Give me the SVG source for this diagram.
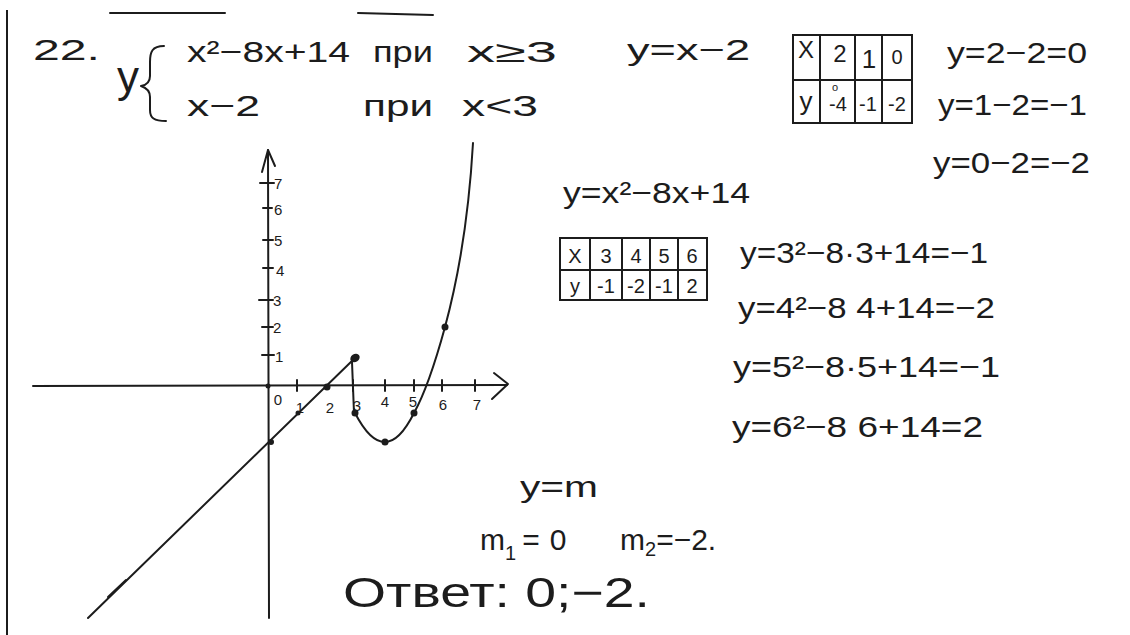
<svg xmlns="http://www.w3.org/2000/svg" width="1130" height="635" viewBox="0 0 1130 635">
<style>
.ink{stroke:#1c1c1c;fill:none;stroke-width:2;stroke-linecap:round;stroke-linejoin:round}
.grid{stroke:#1c1c1c;fill:none;stroke-width:2}
.dot{fill:#1c1c1c}
.t{font-family:"Liberation Sans","DejaVu Sans",sans-serif;fill:#1c1c1c}
.h{font-size:30px}
.s{font-size:20px}
.xs{font-size:15px}
</style>
<rect width="1130" height="635" fill="#ffffff"/>

<g id="page">
  <line class="grid" x1="7" y1="10" x2="7" y2="635" stroke="#444"/>
  <line class="ink" x1="110" y1="13" x2="225" y2="13"/>
  <line class="ink" x1="358" y1="13" x2="433" y2="15"/>
</g>

<g id="system">
  <text class="t h" x="33" y="60" textLength="67" lengthAdjust="spacingAndGlyphs">22.</text>
  <text class="t" x="117" y="92" font-size="44">y</text>
  <path class="ink" d="M164,46 C152,46 150,52 150,62 L150,76 C150,82 147,85 141,86 C147,88 150,91 150,97 L150,110 C150,118 154,121 166,121"/>
  <text class="t h" x="187" y="62" textLength="163" lengthAdjust="spacingAndGlyphs">x²−8x+14</text>
  <text class="t h" x="373" y="62" textLength="60" lengthAdjust="spacingAndGlyphs">при</text>
  <text class="t h" x="467" y="62" textLength="90" lengthAdjust="spacingAndGlyphs">x≥3</text>
  <text class="t h" x="187" y="116" textLength="73" lengthAdjust="spacingAndGlyphs">x−2</text>
  <text class="t h" x="363" y="116" textLength="70" lengthAdjust="spacingAndGlyphs">при</text>
  <text class="t h" x="462" y="116" textLength="76" lengthAdjust="spacingAndGlyphs">x&lt;3</text>
  <text class="t h" x="627" y="60" textLength="123" lengthAdjust="spacingAndGlyphs">y=x−2</text>
</g>

<g id="table1">
  <rect class="grid" x="793" y="35" width="119" height="88"/>
  <line class="grid" x1="793" y1="80" x2="912" y2="80"/>
  <line class="grid" x1="820" y1="35" x2="820" y2="123"/>
  <line class="grid" x1="855" y1="35" x2="855" y2="123"/>
  <line class="grid" x1="882" y1="35" x2="882" y2="123"/>
  <text class="t" font-size="24" x="806" y="58" text-anchor="middle">X</text>
  <text class="t" font-size="24" x="840" y="62" text-anchor="middle">2</text>
  <text class="t" font-size="26" x="869" y="68" text-anchor="middle">1</text>
  <text class="t s" x="897" y="64" text-anchor="middle">0</text>
  <text class="t" font-size="26" x="806" y="110" text-anchor="middle">y</text>
  <text class="t" font-size="11" x="835" y="91" text-anchor="middle">o</text>
  <text class="t s" x="838" y="111" text-anchor="middle">-4</text>
  <text class="t s" x="868" y="111" text-anchor="middle">-1</text>
  <text class="t s" x="897" y="111" text-anchor="middle">-2</text>
</g>

<g id="calc1">
  <text class="t h" x="947" y="63" textLength="140" lengthAdjust="spacingAndGlyphs">y=2−2=0</text>
  <text class="t h" x="938" y="115" textLength="149" lengthAdjust="spacingAndGlyphs">y=1−2=−1</text>
  <text class="t h" x="933" y="173" textLength="157" lengthAdjust="spacingAndGlyphs">y=0−2=−2</text>
</g>

<g id="calc2">
  <text class="t h" x="563" y="203" textLength="187" lengthAdjust="spacingAndGlyphs">y=x²−8x+14</text>
  <rect class="grid" x="560" y="238" width="147" height="62"/>
  <line class="grid" x1="560" y1="270" x2="707" y2="270"/>
  <line class="grid" x1="590" y1="238" x2="590" y2="300"/>
  <line class="grid" x1="622" y1="238" x2="622" y2="300"/>
  <line class="grid" x1="650" y1="238" x2="650" y2="300"/>
  <line class="grid" x1="678" y1="238" x2="678" y2="300"/>
  <text class="t s" x="575" y="263" text-anchor="middle">X</text>
  <text class="t s" x="606" y="263" text-anchor="middle">3</text>
  <text class="t s" x="636" y="263" text-anchor="middle">4</text>
  <text class="t s" x="664" y="263" text-anchor="middle">5</text>
  <text class="t s" x="692" y="263" text-anchor="middle">6</text>
  <text class="t s" x="575" y="293" text-anchor="middle">y</text>
  <text class="t s" x="606" y="293" text-anchor="middle">-1</text>
  <text class="t s" x="636" y="293" text-anchor="middle">-2</text>
  <text class="t s" x="664" y="293" text-anchor="middle">-1</text>
  <text class="t s" x="692" y="293" text-anchor="middle">2</text>
  <text class="t h" x="740" y="263" textLength="248" lengthAdjust="spacingAndGlyphs">y=3²−8·3+14=−1</text>
  <text class="t h" x="738" y="318" textLength="257" lengthAdjust="spacingAndGlyphs">y=4²−8 4+14=−2</text>
  <text class="t h" x="733" y="377" textLength="267" lengthAdjust="spacingAndGlyphs">y=5²−8·5+14=−1</text>
  <text class="t h" x="732" y="437" textLength="251" lengthAdjust="spacingAndGlyphs">y=6²−8 6+14=2</text>
</g>

<g id="axes">
  <line class="ink" x1="33" y1="386" x2="507" y2="385"/>
  <polyline class="ink" points="494,373 508,384 492,399"/>
  <line class="ink" x1="268" y1="150" x2="269" y2="618"/>
  <polyline class="ink" points="262,172 268,150 275,166"/>
  <g id="yticks">
    <line class="ink" x1="260" y1="183" x2="274" y2="183"/>
    <line class="ink" x1="263" y1="208" x2="272" y2="208"/>
    <line class="ink" x1="263" y1="240" x2="273" y2="240"/>
    <line class="ink" x1="263" y1="268" x2="273" y2="268"/>
    <line class="ink" x1="259" y1="300" x2="273" y2="300"/>
    <line class="ink" x1="262" y1="327" x2="273" y2="327"/>
    <line class="ink" x1="262" y1="355" x2="274" y2="355"/>
  </g>
  <g id="xticks">
    <line class="ink" x1="297" y1="380" x2="297" y2="391"/>
    <line class="ink" x1="353" y1="380" x2="353" y2="391"/>
    <line class="ink" x1="385" y1="380" x2="385" y2="391"/>
    <line class="ink" x1="414" y1="380" x2="414" y2="391"/>
    <line class="ink" x1="442" y1="380" x2="442" y2="391"/>
    <line class="ink" x1="475" y1="380" x2="475" y2="391"/>
  </g>
  <g id="ylabels" class="t xs">
    <text x="274" y="189">7</text>
    <text x="274" y="215">6</text>
    <text x="274" y="246">5</text>
    <text x="276" y="276">4</text>
    <text x="273" y="306">3</text>
    <text x="273" y="333">2</text>
    <text x="275" y="362">1</text>
  </g>
  <g id="xlabels" class="t xs" text-anchor="middle">
    <text x="278" y="405">0</text>
    <text x="300" y="413">1</text>
    <text x="330" y="413">2</text>
    <text x="357" y="411">3</text>
    <text x="385" y="407">4</text>
    <text x="413" y="407">5</text>
    <text x="443" y="410">6</text>
    <text x="477" y="410">7</text>
  </g>
</g>

<g id="connectors">
  <line class="ink" x1="88" y1="618" x2="355" y2="358"/>
  <line class="ink" x1="108" y1="597" x2="126" y2="580" stroke-width="3.5"/>
  <path class="ink" d="M352,362 L354,413"/>
  <path class="ink" d="M355,413 Q385,471 414,413 C424,395 436,360 445,327 C455,290 468,230 473,143"/>
</g>

<g id="points">
  <circle class="dot" cx="268" cy="386" r="2.5"/>
  <circle class="dot" cx="327" cy="387" r="3.5"/>
  <circle class="dot" cx="298" cy="413" r="2.5"/>
  <circle class="dot" cx="271" cy="442" r="3"/>
  <ellipse class="dot" cx="355" cy="358" rx="5" ry="4" transform="rotate(-35 355 358)"/>
  <circle class="dot" cx="355" cy="413" r="3.5"/>
  <circle class="dot" cx="385" cy="442" r="3.5"/>
  <circle class="dot" cx="414" cy="413" r="3.5"/>
  <circle class="dot" cx="445" cy="327" r="3.5"/>
</g>

<g id="answer">
  <text class="t h" x="520" y="497" textLength="78" lengthAdjust="spacingAndGlyphs">y=m</text>
  <text class="t h" x="480" y="550">m<tspan font-size="20" dy="10">1</tspan><tspan dy="-10" dx="6">=</tspan><tspan dx="10">0</tspan></text>
  <text class="t h" x="620" y="550">m<tspan font-size="20" dy="6">2</tspan><tspan dy="-6">=−2.</tspan></text>
  <text class="t" font-size="42" x="343" y="607" textLength="307" lengthAdjust="spacingAndGlyphs">Ответ: 0;−2.</text>
</g>
</svg>
